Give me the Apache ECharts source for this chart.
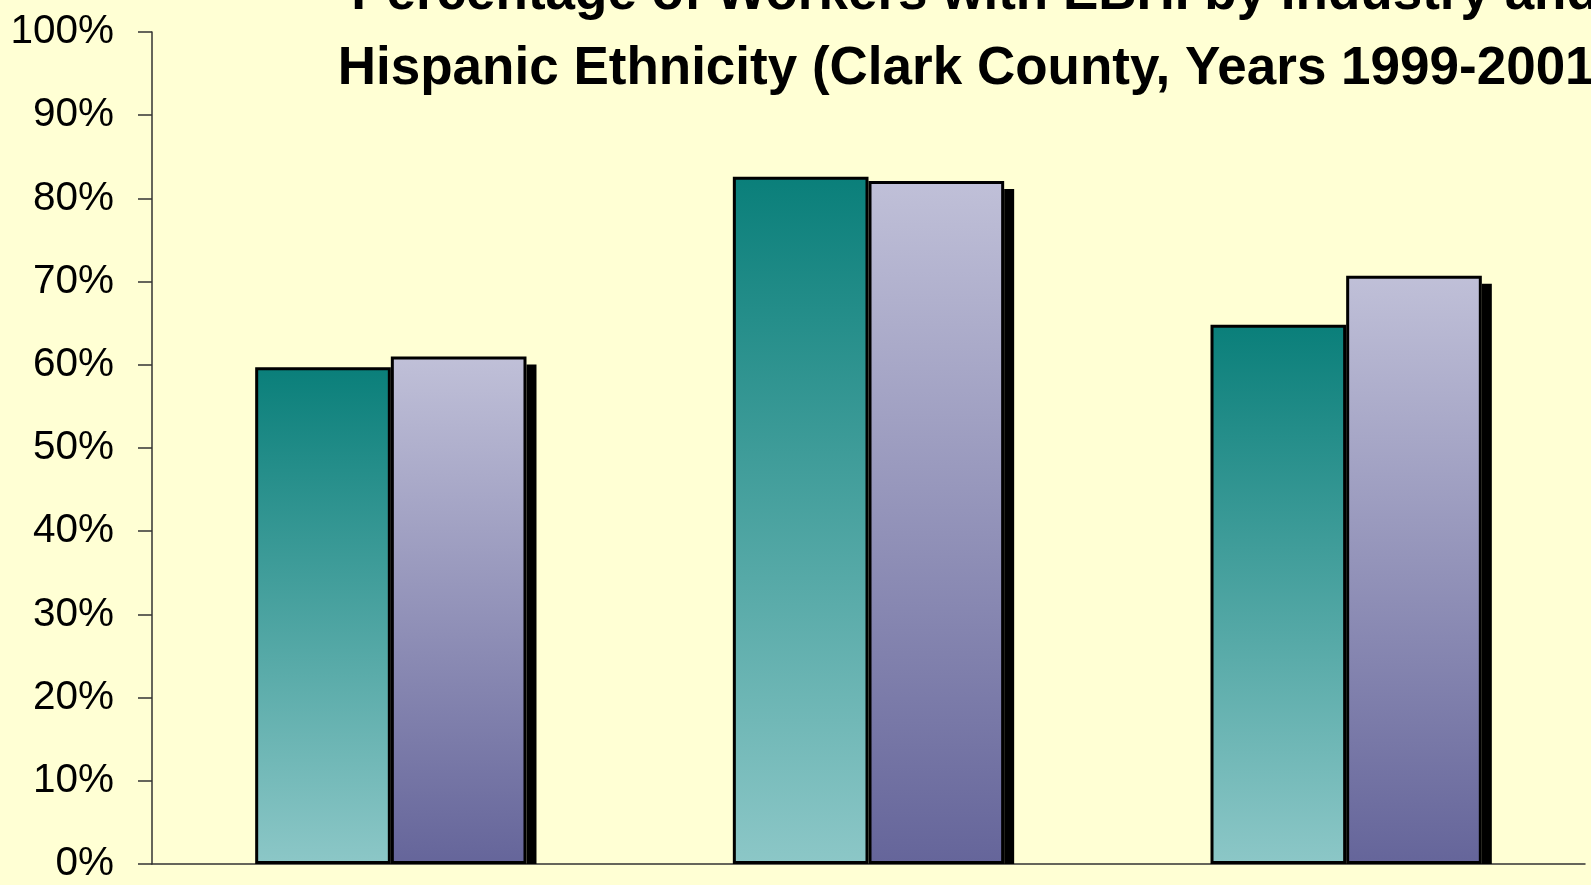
<!DOCTYPE html>
<html>
<head>
<meta charset="utf-8">
<script src="https://cdn.jsdelivr.net/npm/echarts@6/dist/echarts.min.js"></script>
<style>
  html, body { margin: 0; padding: 0; background: #ffffd4; }
  #chart { width: 1591px; height: 885px; }
</style>
</head>
<body>
<div id="chart"></div>
<script>
// chart data
var categories = ["Industry 1", "Industry 2", "Industry 3"];
var hispanic = [59.7, 82.6, 64.8];
var nonHispanic = [61.0, 82.1, 70.7];
var yTicks = [0, 10, 20, 30, 40, 50, 60, 70, 80, 90, 100];

var chart = echarts.init(document.getElementById("chart"));

var barW = 0.284; // share of the category band for one bar

var option = {
  backgroundColor: "#ffffd4",
  animation: false,
  title: {
    text: "Percentage of Workers with EBHI by Industry and\nHispanic Ethnicity (Clark County, Years 1999-2001)",
    left: 975,
    top: -43,
    padding: 0,
    textAlign: "center",
    textStyle: {
      fontFamily: "Liberation Sans",
      fontWeight: "bold",
      fontSize: 53,
      lineHeight: 75,
      color: "#000"
    }
  },
  grid: {
    left: 152,
    right: 6,
    top: 32,
    bottom: 21
  },
  xAxis: {
    type: "category",
    data: categories,
    axisLine: { lineStyle: { color: "#333", width: 1.5 } },
    axisTick: { show: false },
    axisLabel: { show: false }
  },
  yAxis: {
    type: "value",
    min: yTicks[0],
    max: yTicks[yTicks.length - 1],
    interval: 10,
    axisLine: { show: true, lineStyle: { color: "#333", width: 1.5 } },
    axisTick: { show: true, length: 14, lineStyle: { color: "#333", width: 1.5 } },
    splitLine: { show: false },
    axisLabel: {
      formatter: "{value}%",
      margin: 38,
      fontFamily: "Liberation Sans",
      fontSize: 40.5,
      color: "#000"
    }
  },
  series: [
    {
      // drop shadow on the right of each group
      type: "custom",
      name: "shadow",
      z: 1,
      silent: true,
      data: nonHispanic.map(function (v, i) { return [i, v]; }),
      renderItem: function (params, api) {
        var top = api.coord([api.value(0), api.value(1)]);
        var base = api.coord([api.value(0), 0]);
        var band = api.size([1, 0])[0];
        var x = top[0] + band * barW;
        return {
          type: "rect",
          shape: { x: x, y: top[1] + 8, width: 10, height: base[1] - top[1] - 8 },
          style: { fill: "#000" }
        };
      }
    },
    {
      type: "bar",
      name: "Hispanic",
      z: 2,
      data: hispanic,
      barWidth: (barW * 100) + "%",
      barGap: "0%",
      itemStyle: {
        borderColor: "#000",
        borderWidth: 3,
        color: new echarts.graphic.LinearGradient(0, 0, 0, 1, [
          { offset: 0, color: "#0a7f7a" },
          { offset: 1, color: "#8cc7c7" }
        ], false)
      }
    },
    {
      type: "bar",
      name: "Non-Hispanic",
      z: 2,
      data: nonHispanic,
      barWidth: (barW * 100) + "%",
      barGap: "0%",
      itemStyle: {
        borderColor: "#000",
        borderWidth: 3,
        color: new echarts.graphic.LinearGradient(0, 0, 0, 1, [
          { offset: 0, color: "#c0c0d8" },
          { offset: 1, color: "#65659a" }
        ], false)
      }
    }
  ]
};

chart.setOption(option);
</script>
</body>
</html>
